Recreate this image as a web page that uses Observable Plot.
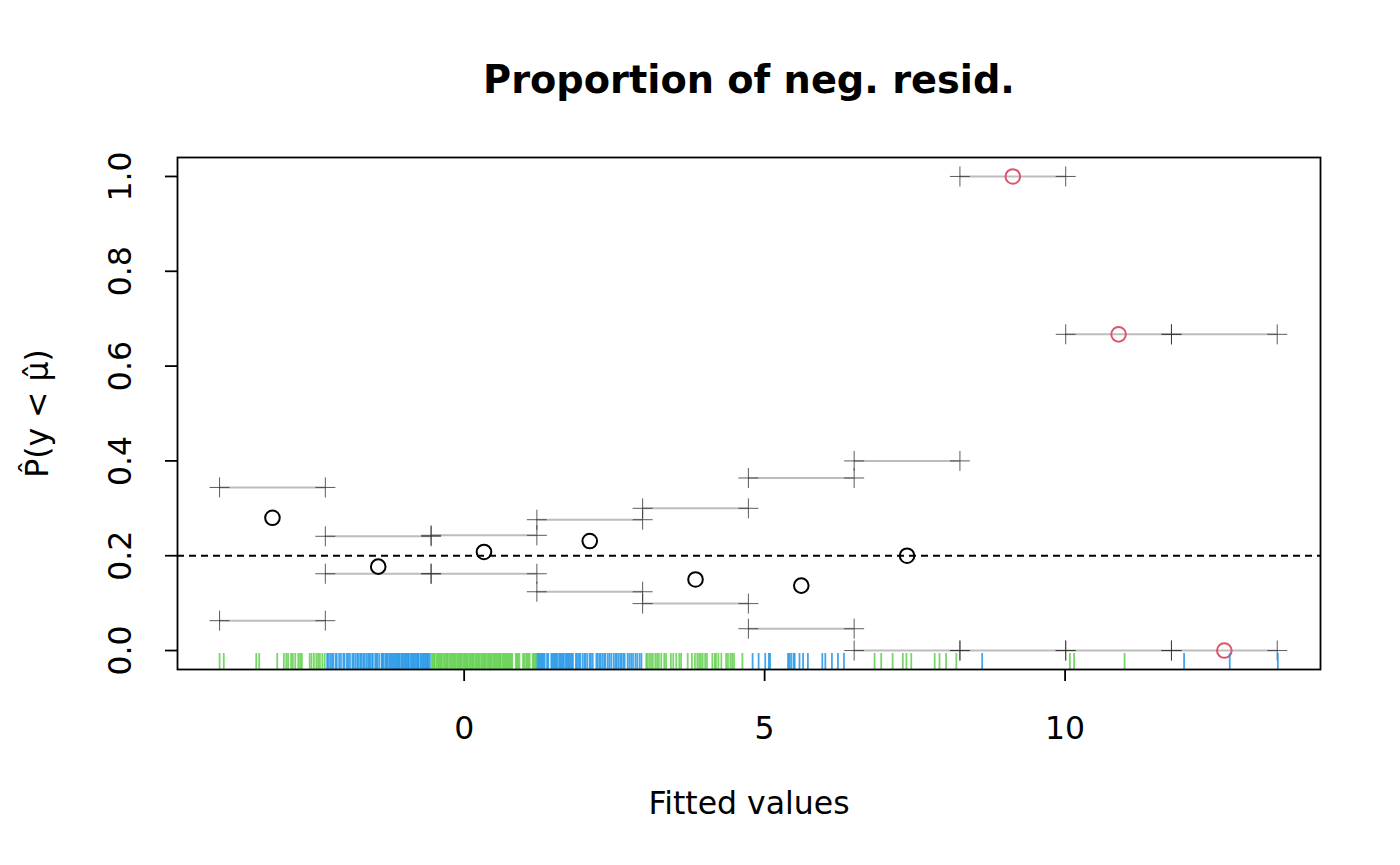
<!DOCTYPE html>
<html>
<head>
<meta charset="utf-8">
<script src="https://cdn.jsdelivr.net/npm/d3@7"></script>
<script src="https://cdn.jsdelivr.net/npm/@observablehq/plot@0.6"></script>
<style>
  html, body { margin: 0; padding: 0; background: #fff; }
  #chart svg { display: block; }
</style>
</head>
<body>
<div id="chart"></div>
<script>
// ---- data ----
const title = "Proportion of neg. resid.";
const xLabel = "Fitted values";
const yLabel = "P\u0302(y < \u03BC\u0302)";
const xTicks = [0, 5, 10];
const yTicks = [0, 0.2, 0.4, 0.6, 0.8, 1.0];
const expectedProp = 0.2;

const binEdges = [-4.07, -2.31, -0.55, 1.21, 2.97, 4.73, 6.49, 8.25, 10.01, 11.77, 13.53];
const upperQ   = [0.344, 0.241, 0.243, 0.276, 0.300, 0.364, 0.400, 1.000, 0.667, 0.667];
const lowerQ   = [0.063, 0.162, 0.162, 0.124, 0.099, 0.046, 0.000, 0.000, 0.000, 0.000];
const observed = [0.280, 0.177, 0.208, 0.231, 0.150, 0.137, 0.200, 1.000, 0.667, 0.000];
const flagged  = [false, false, false, false, false, false, false, true, true, true];

// fitted values (rug), grouped by bin
const rugBin1 = [-4.07, -4.00, -3.46, -3.41, -3.11, -3.00, -2.96, -2.93, -2.88, -2.85, -2.81,
  -2.76, -2.73, -2.70, -2.57, -2.54, -2.50, -2.46, -2.43, -2.40, -2.36, -2.32];
const rugBin2 = [-2.28, -2.26, -2.23, -2.20, -2.18, -2.14, -2.12, -2.08, -2.05, -2.01, -1.99,
  -1.95, -1.93, -1.90, -1.86, -1.84, -1.81, -1.78, -1.76, -1.73, -1.71, -1.68, -1.66, -1.63,
  -1.60, -1.58, -1.56, -1.53, -1.52, -1.48, -1.46, -1.44, -1.41, -1.37, -1.36, -1.34, -1.31,
  -1.29, -1.28, -1.25, -1.23, -1.21, -1.19, -1.17, -1.15, -1.13, -1.11, -1.09, -1.08, -1.05,
  -1.03, -1.01, -0.99, -0.97, -0.95, -0.93, -0.92, -0.89, -0.87, -0.85, -0.83, -0.81, -0.79,
  -0.77, -0.76, -0.73, -0.71, -0.69, -0.67, -0.65, -0.63, -0.61, -0.60, -0.57];
const rugBin3 = [-0.54, -0.52, -0.50, -0.49, -0.46, -0.44, -0.42, -0.40, -0.38, -0.37, -0.34,
  -0.32, -0.30, -0.28, -0.27, -0.24, -0.22, -0.20, -0.18, -0.16, -0.15, -0.12, -0.10, -0.08,
  -0.06, -0.05, -0.02, 0.00, 0.02, 0.04, 0.05, 0.08, 0.10, 0.12, 0.14, 0.15, 0.18, 0.20, 0.22,
  0.24, 0.25, 0.28, 0.30, 0.32, 0.34, 0.35, 0.38, 0.40, 0.42, 0.44, 0.45, 0.48, 0.50, 0.52,
  0.54, 0.56, 0.58, 0.60, 0.61, 0.64, 0.66, 0.68, 0.70, 0.72, 0.74, 0.76, 0.78, 0.80, 0.86,
  0.88, 0.90, 0.92, 0.98, 1.00, 1.03, 1.05, 1.07, 1.09, 1.14, 1.16, 1.18, 1.20];
const rugBin4 = [1.22, 1.24, 1.26, 1.28, 1.30, 1.32, 1.34, 1.38, 1.40, 1.45, 1.47, 1.49, 1.51,
  1.53, 1.55, 1.58, 1.60, 1.62, 1.64, 1.66, 1.69, 1.71, 1.73, 1.75, 1.77, 1.79, 1.81, 1.86,
  1.88, 1.91, 1.93, 1.97, 2.00, 2.02, 2.05, 2.09, 2.11, 2.14, 2.20, 2.22, 2.25, 2.27, 2.30,
  2.33, 2.35, 2.39, 2.42, 2.45, 2.49, 2.52, 2.54, 2.57, 2.60, 2.62, 2.65, 2.67, 2.72, 2.75,
  2.78, 2.81, 2.85, 2.88, 2.92, 2.95];
const rugBin5 = [3.03, 3.05, 3.08, 3.11, 3.14, 3.18, 3.21, 3.24, 3.28, 3.33, 3.36, 3.44, 3.48,
  3.53, 3.58, 3.61, 3.72, 3.79, 3.84, 3.88, 3.91, 3.94, 3.97, 4.01, 4.04, 4.13, 4.17, 4.19,
  4.23, 4.28, 4.36, 4.39, 4.43, 4.46, 4.49, 4.63];
const rugBin6 = [4.80, 4.90, 5.01, 5.07, 5.09, 5.39, 5.41, 5.44, 5.48, 5.50, 5.58, 5.64, 5.72,
  5.96, 6.01, 6.12, 6.22, 6.32];
const rugBin7 = [6.83, 6.94, 7.13, 7.30, 7.36, 7.44, 7.83, 7.91, 8.02, 8.19];
const rugBin8 = [8.62];
const rugBin9 = [10.08, 10.15, 10.99];
const rugBin10 = [11.98, 12.74, 13.54];

// ---- build tables ----
const rugBins = [rugBin1, rugBin2, rugBin3, rugBin4, rugBin5, rugBin6, rugBin7, rugBin8, rugBin9, rugBin10];
const rugColors = ["#61D04F", "#2297E6"];
const rug = rugBins.flatMap((vals, i) => vals.map(v => ({x: v, color: rugColors[i % 2]})));

const bins = observed.map((o, i) => ({
  x1: binEdges[i], x2: binEdges[i + 1], mid: (binEdges[i] + binEdges[i + 1]) / 2,
  upper: upperQ[i], lower: lowerQ[i], obs: o, flag: flagged[i]
}));
const segs = bins.flatMap(b => [{x1: b.x1, x2: b.x2, y: b.upper}, {x1: b.x1, x2: b.x2, y: b.lower}]);
const crosses = segs.flatMap(s => [{x: s.x1, y: s.y}, {x: s.x2, y: s.y}]);

const plusSymbol = {
  draw(ctx, size) {
    const r = Math.sqrt(size / Math.PI);
    ctx.moveTo(-r, 0); ctx.lineTo(r, 0);
    ctx.moveTo(0, -r); ctx.lineTo(0, r);
  }
};

const FONT = "DejaVu Sans, Liberation Sans, sans-serif";

const chart = Plot.plot({
  width: 1400,
  height: 865,
  marginLeft: 177,
  marginRight: 80,
  marginTop: 157,
  marginBottom: 196,
  style: {fontFamily: FONT, background: "#fff", color: "#000"},
  x: {domain: [-4.77, 14.25]},
  y: {domain: [-0.04, 1.04]},
  marks: [
    Plot.axisX({ticks: xTicks, tickSize: 12, tickFormat: () => "", label: null, stroke: "#000", strokeWidth: 1.8}),
    Plot.axisY({ticks: yTicks, tickSize: 12, tickFormat: () => "", label: null, stroke: "#000", strokeWidth: 1.8}),
    // interval segments
    Plot.ruleY(segs, {y: "y", x1: "x1", x2: "x2", stroke: "#bdbdbd", strokeWidth: 2}),
    Plot.dot(crosses, {x: "x", y: "y", symbol: plusSymbol, r: 10, fill: "none", stroke: "#333", strokeOpacity: 0.8, strokeWidth: 1}),
    // expected proportion
    Plot.ruleY([expectedProp], {stroke: "#000", strokeWidth: 2, strokeDasharray: "7,5"}),
    // observed proportions
    Plot.dot(bins, {x: "mid", y: "obs", r: 7.3, fill: "none", stroke: d => d.flag ? "#DF536B" : "#000", strokeWidth: 2}),
    // rug
    Plot.ruleX(rug, {x: "x", y1: -0.04, y2: -0.0063, stroke: "color", strokeOpacity: 0.85, strokeWidth: 1.8}),
    Plot.frame({stroke: "#000", strokeWidth: 1.8}),
    // tick labels
    Plot.text(xTicks, {x: d => d, frameAnchor: "bottom", dy: 59, text: d => String(d), fontSize: 31.5, lineAnchor: "middle", fill: "#000"}),
    Plot.text(yTicks, {y: d => d, frameAnchor: "left", dx: -57, rotate: -90, text: d => d.toFixed(1), fontSize: 31.5, textAnchor: "middle", lineAnchor: "middle", fill: "#000"}),
    // axis titles
    Plot.text([xLabel], {frameAnchor: "bottom", dy: 134, text: d => d, fontSize: 31.5, lineAnchor: "middle", fill: "#000"}),
    Plot.text([yLabel], {frameAnchor: "left", dx: -140, rotate: -90, text: d => d, fontSize: 31.5, textAnchor: "middle", lineAnchor: "middle", fill: "#000"}),
    // main title
    Plot.text([title], {frameAnchor: "top", dy: -77, text: d => d, fontSize: 38.3, fontWeight: "bold", lineAnchor: "middle", fill: "#000"})
  ]
});
document.getElementById("chart").appendChild(chart);
</script>
</body>
</html>
